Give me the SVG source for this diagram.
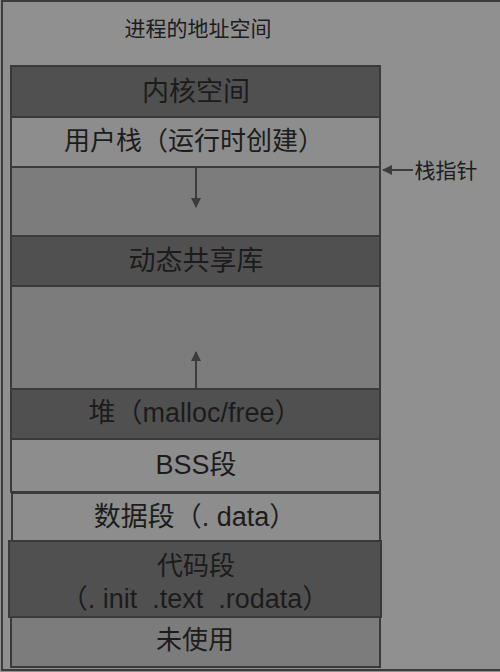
<svg xmlns="http://www.w3.org/2000/svg" width="500" height="672" viewBox="0 0 500 672">
<style>
.t{font-family:"Liberation Sans","Noto Sans CJK SC",sans-serif;fill:#1c1c1c;text-anchor:middle;dominant-baseline:central;white-space:pre}
.dk{fill:#505050;stroke:#3a3a3a;stroke-width:2}
.lt{fill:#8d8d8d;stroke:#3a3a3a;stroke-width:2}
.md{fill:#7c7c7c;stroke:#3a3a3a;stroke-width:2}
.ln{stroke:#3c3c3c;stroke-width:2;fill:none}
</style>
<defs>
<marker id="ah" markerWidth="10" markerHeight="10" refX="9" refY="5" orient="auto" markerUnits="userSpaceOnUse">
<path d="M0,0 L10,5 L0,10 Z" fill="#3c3c3c"/>
</marker>
</defs>
<rect x="0" y="0" width="500" height="672" fill="#909090"/>
<rect x="2" y="1" width="500" height="669" fill="none" stroke="#3c3c3c" stroke-width="2"/>
<text class="t" x="198" y="28" font-size="21">进程的地址空间</text>
<g id="kernel"><rect class="dk" x="11" y="66" width="369" height="51"/><text class="t" x="196" y="92" font-size="27">内核空间</text></g>
<g id="userstack"><rect class="lt" x="11" y="117" width="369" height="50"/><text class="t" x="194" y="141" font-size="26">用户栈（运行时创建）</text></g>
<g id="gap1"><rect class="md" x="11" y="167" width="369" height="69"/></g>
<g id="shlib"><rect class="dk" x="11" y="236" width="369" height="50"/><text class="t" x="196" y="261" font-size="27">动态共享库</text></g>
<g id="gap2"><rect class="md" x="11" y="286" width="369" height="103"/></g>
<g id="heap"><rect class="dk" x="11" y="389" width="369" height="50"/><text class="t" x="195" y="413" font-size="27">堆（malloc/free）</text></g>
<g id="bss"><rect class="lt" x="11" y="439" width="369" height="53"/><text class="t" x="196" y="465" font-size="27">BSS段</text></g>
<g id="data"><rect class="lt" x="12" y="493" width="368" height="48"/><text class="t" x="195" y="517" font-size="27">数据段（. data）</text></g>
<g id="text"><rect class="dk" x="9" y="541" width="372" height="76"/><text class="t" x="196" y="566" font-size="26">代码段</text><text class="t" x="195" y="599" font-size="27" xml:space="preserve">（. init  .text  .rodata）</text></g>
<g id="unused"><rect class="md" x="11" y="617" width="369" height="50"/><text class="t" x="195" y="640" font-size="26">未使用</text></g>
<g id="sp"><text class="t" x="446" y="170" font-size="21">栈指针</text></g>
<g id="connectors">
<line class="ln" x1="196" y1="167" x2="196" y2="207" marker-end="url(#ah)"/>
<line class="ln" x1="196" y1="389" x2="196" y2="352" marker-end="url(#ah)"/>
<line class="ln" x1="413" y1="170" x2="383" y2="170" marker-end="url(#ah)"/>
</g>
</svg>
